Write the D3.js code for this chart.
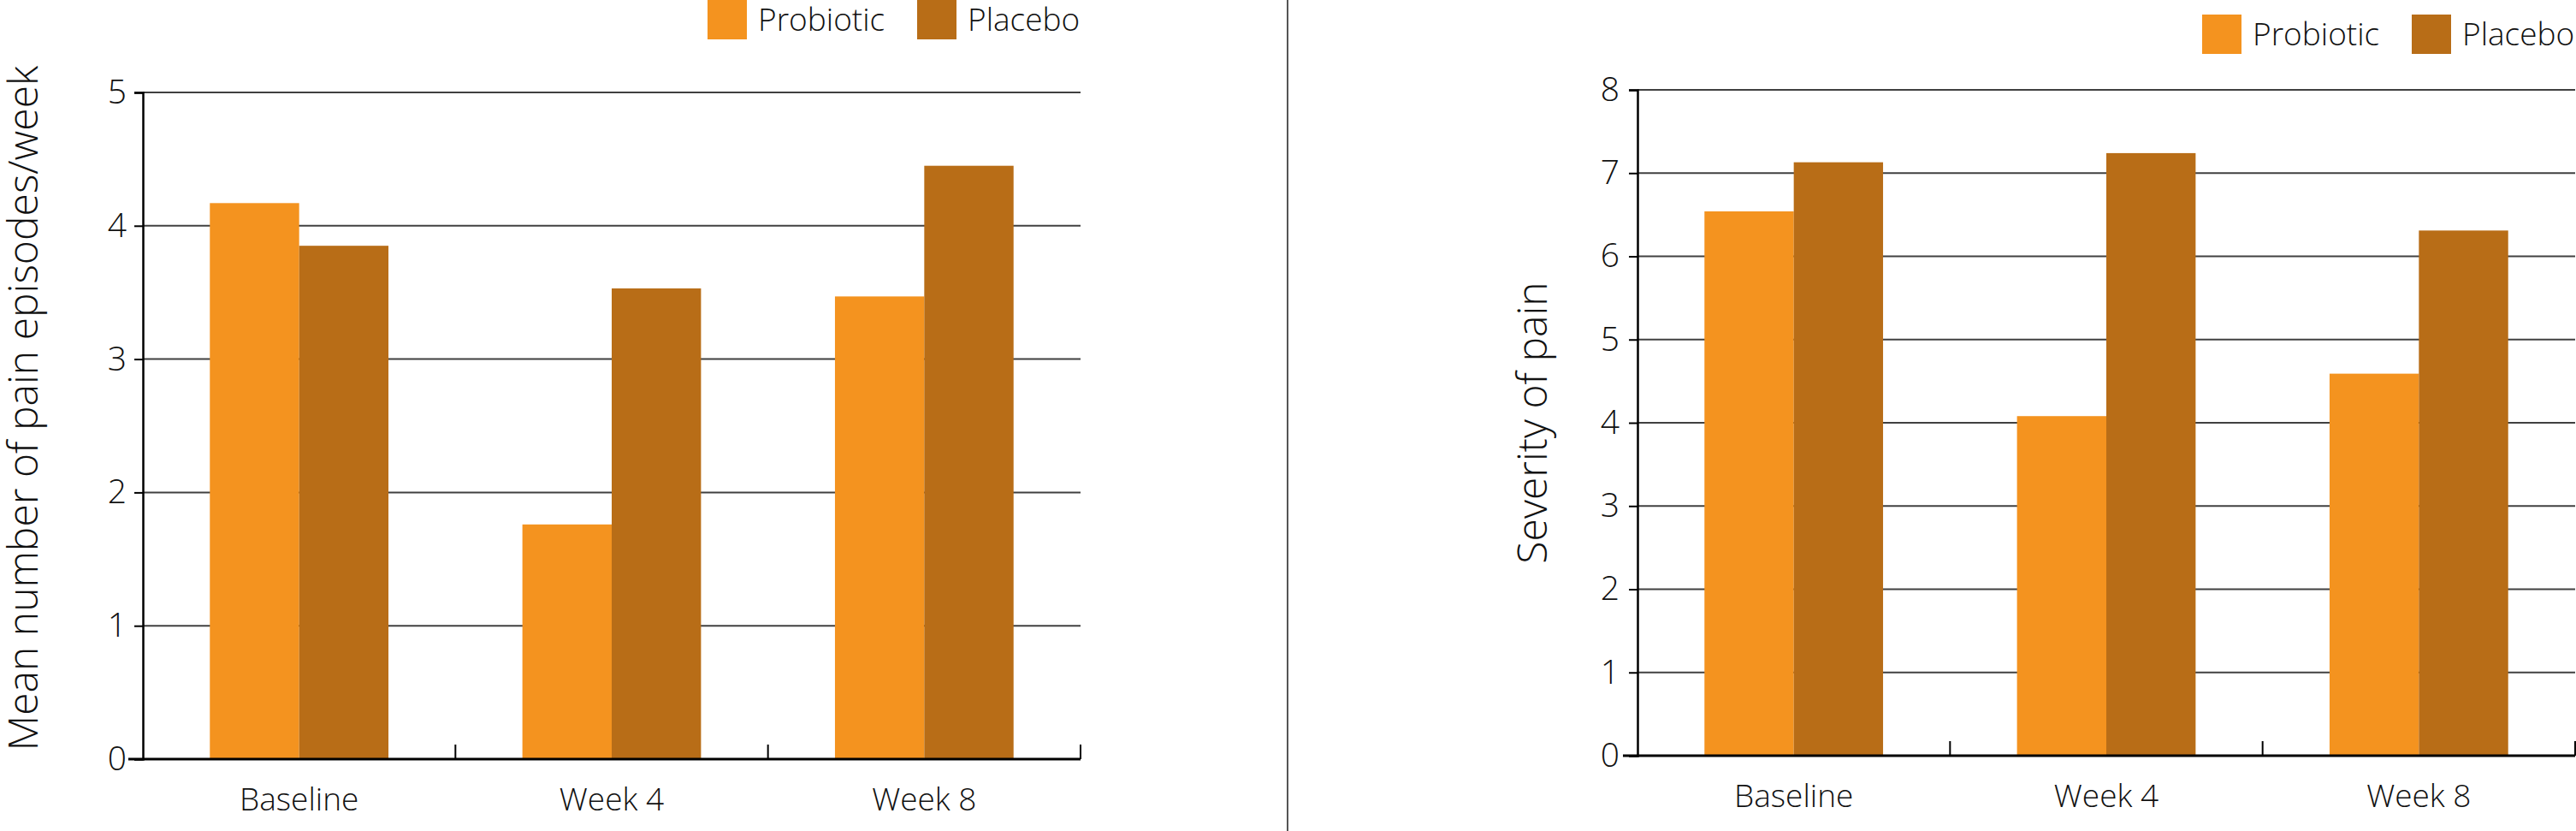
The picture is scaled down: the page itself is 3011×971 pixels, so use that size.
<!DOCTYPE html>
<html>
<head>
<meta charset="utf-8">
<script src="https://cdn.jsdelivr.net/npm/d3@7"></script>
<style>
  body { margin: 0; background: #fff; }
  text { font-family: "Open Sans", sans-serif; font-weight: 300; fill: #111; }
</style>
</head>
<body>
<div id="chart"></div>
<script>
const categories = ["Baseline", "Week 4", "Week 8"];
const seriesNames = ["Probiotic", "Placebo"];
const seriesColors = ["#F4931F", "#B86D17"];

// left panel: pain episodes per week
const episodesProbiotic = [4.17, 1.76, 3.47];
const episodesPlacebo = [3.85, 3.53, 4.45];
const episodesTicks = [0, 1, 2, 3, 4, 5];

// right panel: severity of pain
const severityProbiotic = [6.54, 4.08, 4.59];
const severityPlacebo = [7.13, 7.24, 6.31];
const severityTicks = [0, 1, 2, 3, 4, 5, 6, 7, 8];

const W = 3011, H = 971;

const svg = d3.select("#chart")
    .append("svg")
    .attr("width", W)
    .attr("height", H);

function drawPanel(opt) {
    const x0 = d3.scaleBand()
        .domain(categories)
        .range([opt.left, opt.right]);

    const x1 = d3.scaleBand()
        .domain(seriesNames)
        .range([0, x0.bandwidth()])
        .paddingOuter(0.75);

    const y = d3.scaleLinear()
        .domain([0, d3.max(opt.ticks)])
        .range([opt.bottom, opt.top]);

    const g = svg.append("g");

    // gridlines
    g.append("g")
        .selectAll("line")
        .data(opt.ticks.filter(d => d > 0))
        .join("line")
        .attr("x1", opt.left)
        .attr("x2", opt.right)
        .attr("y1", d => y(d))
        .attr("y2", d => y(d))
        .attr("stroke", "#404040")
        .attr("stroke-width", 2);

    // bars
    const rows = categories.map((c, i) => ({cat: c, vals: [opt.a[i], opt.b[i]]}));
    g.append("g")
        .selectAll("g")
        .data(rows)
        .join("g")
        .attr("transform", d => `translate(${x0(d.cat)},0)`)
        .selectAll("rect")
        .data(d => d.vals.map((v, j) => ({name: seriesNames[j], v: v, j: j})))
        .join("rect")
        .attr("x", d => x1(d.name))
        .attr("width", x1.bandwidth())
        .attr("y", d => y(d.v))
        .attr("height", d => y(0) - y(d.v))
        .attr("fill", d => seriesColors[d.j]);

    // y axis
    const yAxis = g.append("g")
        .attr("transform", `translate(${opt.left},0)`)
        .call(d3.axisLeft(y).tickValues(opt.ticks).tickFormat(d3.format("d"))
            .tickSize(10).tickPadding(opt.tickPad));
    yAxis.select(".domain").attr("stroke", "#000").attr("stroke-width", 2.5);
    yAxis.selectAll(".tick line").attr("stroke", "#000").attr("stroke-width", 2);
    yAxis.selectAll(".tick text")
        .style("font-size", "39px")
        .attr("fill", "#111");

    // x axis labels
    const xAxis = g.append("g")
        .attr("transform", `translate(0,${opt.bottom})`)
        .call(d3.axisBottom(x0).tickSize(0).tickPadding(34));
    xAxis.select(".domain").remove();
    xAxis.selectAll(".tick text")
        .style("font-size", "37px")
        .attr("fill", "#111");

    // baseline
    g.append("line")
        .attr("x1", opt.left - 17)
        .attr("x2", opt.right)
        .attr("y1", opt.bottom)
        .attr("y2", opt.bottom)
        .attr("stroke", "#000")
        .attr("stroke-width", 3);

    // category separators
    g.append("g")
        .selectAll("line")
        .data(categories)
        .join("line")
        .attr("x1", d => x0(d) + x0.bandwidth())
        .attr("x2", d => x0(d) + x0.bandwidth())
        .attr("y1", opt.bottom)
        .attr("y2", opt.bottom - 17)
        .attr("stroke", "#000")
        .attr("stroke-width", 2);

    // y title
    g.append("text")
        .attr("transform", `translate(${opt.titleX},${opt.titleY}) rotate(-90)`)
        .style("text-anchor", "middle")
        .style("font-size", "48px")
        .text(opt.title);

    // legend
    const leg = g.append("g")
        .selectAll("g")
        .data(seriesNames)
        .join("g")
        .attr("transform", (d, i) => `translate(${opt.legendX + i * 245},${opt.legendY})`);
    leg.append("rect")
        .attr("width", 46)
        .attr("height", 46)
        .attr("fill", (d, i) => seriesColors[i]);
    leg.append("text")
        .attr("x", 59)
        .attr("y", 23)
        .attr("dy", "0.35em")
        .style("font-size", "37px")
        .text(d => d);
}

drawPanel({
    left: 167, right: 1263, top: 108, bottom: 887, tickPad: 9,
    ticks: episodesTicks, a: episodesProbiotic, b: episodesPlacebo,
    title: "Mean number of pain episodes/week", titleX: 44, titleY: 477,
    legendX: 827, legendY: 0
});

drawPanel({
    left: 1914, right: 3010, top: 105, bottom: 883, tickPad: 11,
    ticks: severityTicks, a: severityProbiotic, b: severityPlacebo,
    title: "Severity of pain", titleX: 1808, titleY: 494,
    legendX: 2574, legendY: 17
});

// divider between panels
svg.append("line")
    .attr("x1", 1505)
    .attr("x2", 1505)
    .attr("y1", 0)
    .attr("y2", H)
    .attr("stroke", "#555")
    .attr("stroke-width", 2);
</script>
</body>
</html>
